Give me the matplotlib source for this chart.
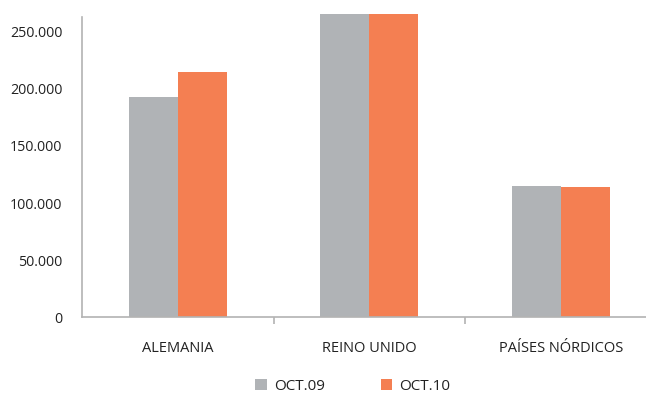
import matplotlib
matplotlib.use("Agg")
import matplotlib.pyplot as plt
import matplotlib.ticker as mticker
import numpy as np

categories = ["ALEMANIA", "REINO UNIDO", "PAÍSES NÓRDICOS"]
series_names = ["OCT.09", "OCT.10"]
oct09 = [191900, 270000, 114300]
oct10 = [213500, 275000, 113200]
yticks = [0, 50000, 100000, 150000, 200000, 250000]
ytick_labels = ["0", "50.000", "100.000", "150.000", "200.000", "250.000"]

colors = ["#B0B3B6", "#F47F52"]
axis_color = "#B3B3B3"

plt.rcParams['font.family'] = ['Open Sans', 'DejaVu Sans']

fig = plt.figure(figsize=(6.46, 4.02), dpi=100)
ax = fig.add_axes([82/646, 1 - 317.5/402, (656.5 - 82)/646, (317.5 - 15)/402])

x = np.arange(len(categories))
w = 0.256
ax.bar(x - w/2, oct09, width=w, color=colors[0], label=series_names[0])
ax.bar(x + w/2, oct10, width=w, color=colors[1], label=series_names[1])

ax.set_xlim(-0.5, len(categories) - 0.5)
ax.set_ylim(0, 264400)

for s in ["top", "right"]:
    ax.spines[s].set_visible(False)
ax.spines["left"].set_color(axis_color)
ax.spines["bottom"].set_color(axis_color)
ax.spines["left"].set_linewidth(1.2)
ax.spines["bottom"].set_linewidth(1.2)
ax.spines["left"].set_bounds(0, 262000)

ax.set_yticks(yticks)
ax.set_yticklabels(ytick_labels)
ax.tick_params(axis="y", length=0, pad=14, labelsize=10.3, labelcolor="#222222")

ax.set_xticks(x)
ax.set_xticklabels(categories)
ax.tick_params(axis="x", which="major", length=0, pad=17, labelsize=10.5, labelcolor="#222222")
ax.xaxis.set_minor_locator(mticker.FixedLocator([0.5, 1.5]))
ax.tick_params(axis="x", which="minor", length=5, color=axis_color, width=1.2, direction="out")

fig.legend(loc="center", bbox_to_anchor=(353/646, 1 - 387/402), ncol=2, frameon=False,
           fontsize=11, handlelength=0.75, handleheight=0.75, handletextpad=0.5,
           columnspacing=3.6, labelcolor="#222222")

fig.savefig("out.png", dpi=100)
